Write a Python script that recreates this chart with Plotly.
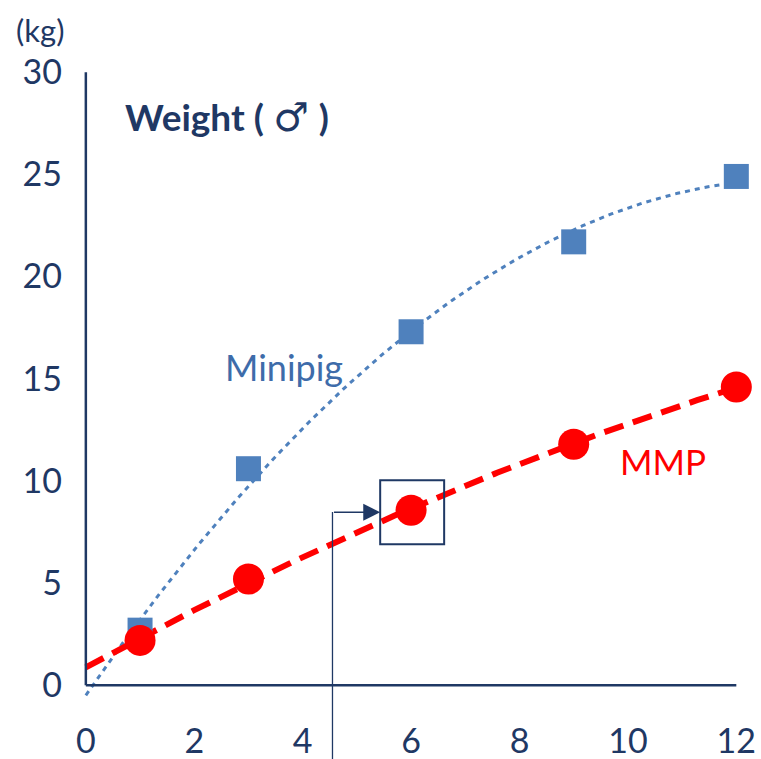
import numpy as np
import plotly.graph_objects as go

months = [1, 3, 6, 9, 12]
minipig = [2.7, 10.6, 17.3, 21.7, 24.9]
mmp = [2.2, 5.2, 8.57, 11.8, 14.6]
x_ticks = [0, 2, 4, 6, 8, 10, 12]
y_ticks = [0, 5, 10, 15, 20, 25, 30]

NAVY = "#1F3864"
BLUE = "#4F81BD"
RED = "#FF0000"
FONT = "Lato"

W, H = 761, 759
L, R, T, B = 75, 3, 62, 43
PW, PH = W - L - R, H - T - B


def px_x(px):
    return (px - L) / PW


def px_y(py):
    return (H - B - py) / PH


# second-order polynomial trendlines fitted to the data (as in the original chart)
xt = np.linspace(0, 12, 200)
blue_fit = np.polyval(np.polyfit(months, minipig, 2), xt)
red_fit = np.polyval(np.polyfit(months, mmp, 2), xt)

fig = go.Figure()
fig.add_trace(go.Scatter(x=xt, y=blue_fit, mode="lines",
                         line=dict(color=BLUE, width=3, dash="5px,5px"),
                         hoverinfo="skip", showlegend=False))
fig.add_trace(go.Scatter(x=xt, y=red_fit, mode="lines",
                         line=dict(color=RED, width=6, dash="20px,10px"),
                         hoverinfo="skip", showlegend=False))
fig.add_trace(go.Scatter(x=months, y=minipig, mode="markers", name="Minipig",
                         marker=dict(symbol="square", size=25, color=BLUE),
                         cliponaxis=False, showlegend=False))
fig.add_trace(go.Scatter(x=months, y=mmp, mode="markers", name="MMP",
                         marker=dict(symbol="circle", size=31, color=RED),
                         cliponaxis=False, showlegend=False))

# axis lines
fig.add_shape(type="line", x0=0, x1=0, y0=0, y1=30, xref="x", yref="y",
              line=dict(color=NAVY, width=2.5))
fig.add_shape(type="line", x0=0, x1=12, y0=0, y1=0, xref="x", yref="y",
              line=dict(color=NAVY, width=2.5))

# highlight box around 6-month MMP point
fig.add_shape(type="rect", x0=5.43, x1=6.61, y0=6.9, y1=10.03, xref="x", yref="y",
              line=dict(color=NAVY, width=2))
# connector: vertical line then arrow
fig.add_shape(type="line", x0=4.55, x1=4.55, y0=px_y(762), y1=px_y(512), xref="x", yref="paper",
              line=dict(color=NAVY, width=1.3))
fig.add_annotation(x=5.43, y=8.47, ax=4.55, ay=8.47, axref="x", ayref="y",
                   xref="x", yref="y", text="", showarrow=True,
                   arrowhead=2, arrowsize=2.6, arrowwidth=1.3, arrowcolor=NAVY,
                   standoff=0, startstandoff=0)

fig.add_annotation(x=px_x(284), y=px_y(367), xref="paper", yref="paper",
                   xanchor="center", yanchor="middle",
                   text="Minipig", showarrow=False,
                   font=dict(family=FONT, size=36, color="#3E6CAA"))
fig.add_annotation(x=px_x(663), y=px_y(461), xref="paper", yref="paper",
                   xanchor="center", yanchor="middle",
                   text="MMP", showarrow=False,
                   font=dict(family=FONT, size=35, color=RED))
fig.add_annotation(x=px_x(123), y=px_y(117), xref="paper", yref="paper",
                   xanchor="left", yanchor="middle",
                   text="<b>Weight (</b> <span style='font-family:DejaVu Sans;font-size:40px'>♂</span> <b>)</b>",
                   showarrow=False,
                   font=dict(family=FONT, size=37, color=NAVY))
fig.add_annotation(x=px_x(40), y=px_y(30), xref="paper", yref="paper",
                   xanchor="center", yanchor="middle",
                   text="(kg)", showarrow=False,
                   font=dict(family=FONT, size=31, color=NAVY))

# plot area: y 0 -> 685px, 30 -> 72px ; x 0 -> 86px, 12 -> 736px
fig.update_layout(
    width=W, height=H,
    margin=dict(l=L, r=R, t=T, b=B, autoexpand=False),
    paper_bgcolor="white", plot_bgcolor="white",
    font=dict(family=FONT, color=NAVY),
    xaxis=dict(range=[-0.2, 12.4], tickvals=x_ticks, ticktext=[str(v) for v in x_ticks],
               showgrid=False, zeroline=False, showline=False, ticks="", automargin=False,
               tickfont=dict(family=FONT, size=34, color=NAVY), ticklabelstandoff=2),
    yaxis=dict(range=[-1.5, 30.5], tickvals=y_ticks, ticktext=[str(v) for v in y_ticks],
               showgrid=False, zeroline=False, showline=False, ticks="", automargin=False,
               tickfont=dict(family=FONT, size=34, color=NAVY), ticklabelstandoff=12),
)

fig.write_html("out.html", config={"displayModeBar": False},
               post_script="document.body.style.margin='0';document.body.style.overflow='hidden';")
